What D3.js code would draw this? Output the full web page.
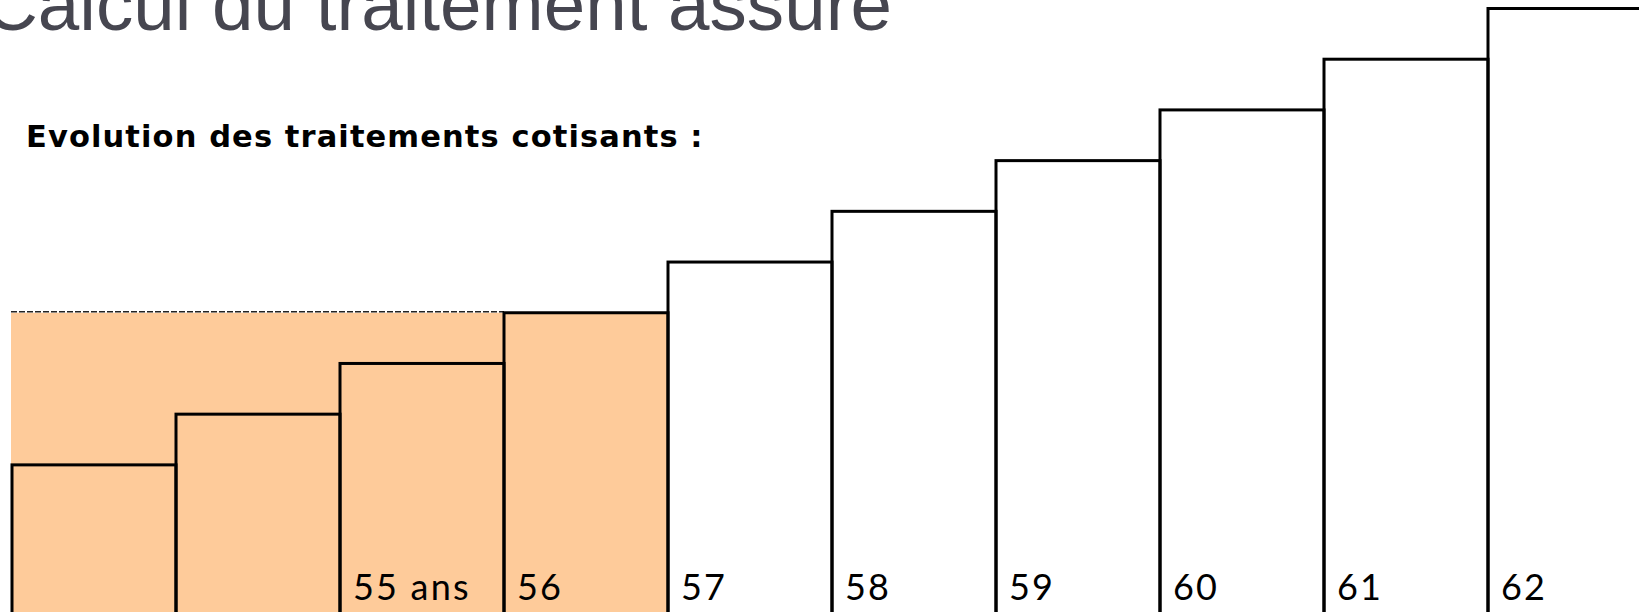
<!DOCTYPE html>
<html>
<head>
<meta charset="utf-8">
<script src="https://cdn.jsdelivr.net/npm/d3@7"></script>
<style>
  html, body { margin: 0; padding: 0; background: #fff; overflow: hidden; }
  svg { display: block; }
</style>
</head>
<body>
<svg id="canvas" width="1639" height="612"></svg>
<script>
// ages (one step per year) and the matching contributory salary level
var ages = [53, 54, 55, 56, 57, 58, 59, 60, 61, 62];
var ageLabels = ['', '', '55 ans', '56', '57', '58', '59', '60', '61', '62'];
var traitements = [3, 4, 5, 6, 7, 8, 9, 10, 11, 12];
// years that fall inside the shaded (insured) block
var insuredAges = [53, 54, 55, 56];

var titleText = 'Calcul du traitement assuré';
var subtitleText = 'Evolution des traitements cotisants :';

var W = 1639, H = 612;
var svg = d3.select('#canvas');

var x = d3.scaleBand()
  .domain(ages)
  .range([12, 12 + 164 * ages.length])
  .padding(0);

var y = d3.scaleLinear()
  .domain([0, 12])
  .range([617, 8.5]);

// shaded block : all insured years brought up to the last insured salary
var lastInsured = insuredAges[insuredAges.length - 1];
var insuredLevel = traitements[ages.indexOf(lastInsured)];

svg.append('rect')
  .attr('x', x(insuredAges[0]) - 1)
  .attr('y', y(insuredLevel))
  .attr('width', x(lastInsured) + x.bandwidth() - x(insuredAges[0]) + 1)
  .attr('height', H + 10 - y(insuredLevel))
  .attr('fill', '#fecb9a');

svg.append('line')
  .attr('x1', x(insuredAges[0]) - 1)
  .attr('x2', x(lastInsured))
  .attr('y1', y(insuredLevel) - 1)
  .attr('y2', y(insuredLevel) - 1)
  .attr('stroke', '#222')
  .attr('stroke-width', 1.6)
  .attr('stroke-dasharray', '6,2');

// the steps
svg.selectAll('rect.step')
  .data(ages)
  .enter()
  .append('rect')
  .attr('class', 'step')
  .attr('x', function (d) { return x(d); })
  .attr('y', function (d, i) { return y(traitements[i]); })
  .attr('width', x.bandwidth())
  .attr('height', function (d, i) { return H + 20 - y(traitements[i]); })
  .attr('fill', 'none')
  .attr('stroke', '#000')
  .attr('stroke-width', 3);

// age labels at the foot of each step
svg.selectAll('text.age')
  .data(ages)
  .enter()
  .append('text')
  .attr('class', 'age')
  .attr('x', function (d) { return x(d) + 13; })
  .attr('y', 600)
  .attr('font-family', '"Century Gothic", Lato, "DejaVu Sans", sans-serif')
  .attr('font-size', 36)
  .attr('letter-spacing', 2.2)
  .attr('fill', '#000')
  .text(function (d, i) { return ageLabels[i]; });

svg.append('text')
  .attr('x', -16)
  .attr('y', 30)
  .attr('font-family', 'Arial, "Liberation Sans", sans-serif')
  .attr('font-size', 74.6)
  .attr('fill', '#464650')
  .text(titleText);

svg.append('text')
  .attr('x', 26)
  .attr('y', 147)
  .attr('font-family', '"Century Gothic", "DejaVu Sans", sans-serif')
  .attr('font-weight', 'bold')
  .attr('font-size', 30.5)
  .attr('letter-spacing', 1.1)
  .attr('fill', '#000')
  .text(subtitleText);
</script>
</body>
</html>
